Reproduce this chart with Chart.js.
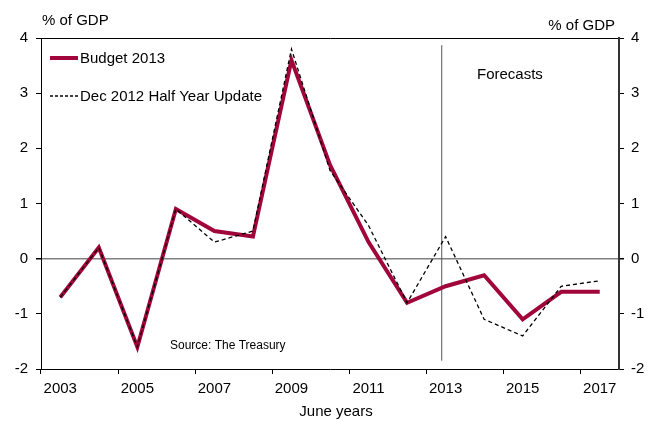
<!DOCTYPE html>
<html>
<head>
<meta charset="utf-8">
<script src="https://cdn.jsdelivr.net/npm/chart.js@4/dist/chart.umd.min.js"></script>
<style>
  html, body { margin: 0; padding: 0; background: #fff; }
  #wrap { width: 652px; height: 421px; position: relative; }
</style>
</head>
<body>
<div id="wrap"><canvas id="chart" width="652" height="421"></canvas></div>
<script>
// --- DATA ---
const years = ["2003", "2004", "2005", "2006", "2007", "2008", "2009", "2010",
               "2011", "2012", "2013", "2014", "2015", "2016", "2017"];
const budget2013 = [-0.7, 0.2, -1.6, 0.9, 0.5, 0.4, 3.6, 1.7, 0.3, -0.8, -0.5, -0.3, -1.1, -0.6, -0.6];
const halfYearUpdate = [-0.7, 0.2, -1.6, 0.9, 0.3, 0.5, 3.8, 1.6, 0.6, -0.8, 0.4, -1.1, -1.4, -0.5, -0.4];
const yTicks = [-2, -1, 0, 1, 2, 3, 4];
const forecastStart = 9.9; // category position of the forecast divider

const RED = "#A0063A";
const FONT = "'Liberation Sans', Arial, sans-serif";

// --- ANNOTATIONS (legend, labels, forecast divider) ---
const annotations = {
  id: "annotations",
  beforeDatasetsDraw(chart) {
    const { ctx, chartArea, scales } = chart;
    const x = scales.x.getPixelForValue(forecastStart);
    ctx.save();
    ctx.strokeStyle = "#555";
    ctx.lineWidth = 1;
    ctx.beginPath();
    ctx.moveTo(x, scales.y.getPixelForValue(3.87));
    ctx.lineTo(x, scales.y.getPixelForValue(-1.85));
    ctx.stroke();
    ctx.restore();
  },
  afterDraw(chart) {
    const { ctx, chartArea } = chart;
    ctx.save();
    ctx.fillStyle = "#000";
    ctx.textBaseline = "middle";
    ctx.font = "15px " + FONT;

    // axis unit labels
    ctx.textAlign = "left";
    ctx.fillText("% of GDP", 42, 21);
    ctx.textAlign = "right";
    ctx.fillText("% of GDP", 615, 26);

    // x axis title
    ctx.textAlign = "center";
    ctx.fillText("June years", 336, 412);

    // legend
    ctx.textAlign = "left";
    ctx.strokeStyle = RED;
    ctx.lineWidth = 4;
    ctx.beginPath();
    ctx.moveTo(50, 58);
    ctx.lineTo(78, 58);
    ctx.stroke();
    ctx.fillText("Budget 2013", 80, 59);

    ctx.strokeStyle = "#000";
    ctx.lineWidth = 1.3;
    ctx.setLineDash([3, 2]);
    ctx.beginPath();
    ctx.moveTo(50, 96);
    ctx.lineTo(78, 96);
    ctx.stroke();
    ctx.setLineDash([]);
    ctx.fillText("Dec 2012 Half Year Update", 80, 97);

    ctx.fillText("Forecasts", 477, 75);

    ctx.font = "12px " + FONT;
    ctx.fillText("Source: The Treasury", 170, 346);
    ctx.restore();
  }
};

const yScale = (position) => ({
  position,
  min: -2,
  max: 4,
  afterBuildTicks: (s) => { s.ticks = yTicks.map(v => ({ value: v })); },
  afterFit: (s) => { s.width = position === "left" ? 41 : 33; },
  border: { display: true, color: position === "left" ? "#000" : "#333", width: position === "left" ? 1 : 2 },
  grid: {
    drawOnChartArea: position === "left",
    tickLength: 5,
    tickColor: "#000",
    color: (ctx) => ctx.tick && ctx.tick.value === 0 ? "#808080" : (ctx.tick && ctx.tick.value === 4 ? "#000" : "transparent"),
    lineWidth: (ctx) => ctx.tick && ctx.tick.value === 0 ? 1.5 : 1
  },
  ticks: {
    color: "#000",
    font: { family: FONT, size: 15 },
    padding: position === "left" ? 8 : 7
  }
});

new Chart(document.getElementById("chart"), {
  type: "line",
  data: {
    labels: years,
    datasets: [
      {
        label: "Budget 2013",
        data: budget2013,
        borderColor: RED,
        borderWidth: 4,
        pointRadius: 0,
        tension: 0,
        order: 2,
        yAxisID: "y"
      },
      {
        label: "Dec 2012 Half Year Update",
        data: halfYearUpdate,
        borderColor: "#000",
        borderWidth: 1.3,
        borderDash: [4, 3],
        pointRadius: 0,
        tension: 0,
        order: 1,
        yAxisID: "y"
      }
    ]
  },
  options: {
    responsive: false,
    animation: false,
    devicePixelRatio: 1,
    layout: { padding: { top: 38, left: 0, right: 0, bottom: 0 } },
    plugins: { legend: { display: false }, tooltip: { enabled: false } },
    scales: {
      x: {
        offset: true,
        afterFit: (s) => { s.height = 52; },
        border: { display: true, color: "#000", width: 1 },
        grid: {
          offset: true,
          drawOnChartArea: false,
          tickLength: 5,
          color: (ctx) => (ctx.index % 2 === 0 ? "#000" : "transparent")
        },
        ticks: {
          autoSkip: false,
          maxRotation: 0,
          color: "#000",
          padding: 6,
          font: { family: FONT, size: 15 },
          callback: (v, i) => (i % 2 === 0 ? years[i] : "")
        }
      },
      y: yScale("left"),
      y2: yScale("right")
    }
  },
  plugins: [annotations]
});
</script>
</body>
</html>
